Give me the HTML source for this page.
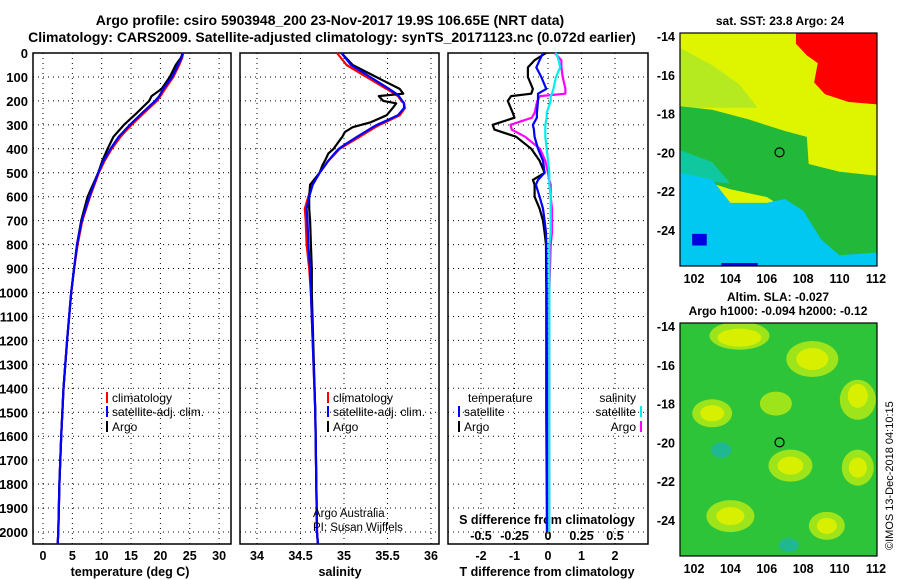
<!DOCTYPE html>
<html><head><meta charset="utf-8"><style>
body{margin:0;background:#fff;}
svg{display:block;font-family:"Liberation Sans",sans-serif;font-weight:bold;}
</style></head><body>
<svg id="fig" width="900" height="580" viewBox="0 0 900 580">
<text x="330" y="25" font-size="14" text-anchor="middle">Argo profile: csiro 5903948_200 23-Nov-2017 19.9S 106.65E (NRT data)</text>
<text x="332" y="42" font-size="14" text-anchor="middle">Climatology: CARS2009. Satellite-adjusted climatology: synTS_20171123.nc (0.072d earlier)</text>
<text x="780" y="25" font-size="12" text-anchor="middle">sat. SST: 23.8 Argo: 24</text>
<text x="778" y="301" font-size="12" text-anchor="middle">Altim. SLA: -0.027</text>
<text x="778" y="315" font-size="12" text-anchor="middle">Argo h1000: -0.094 h2000: -0.12</text>
<text transform="translate(893,550) rotate(-90)" font-size="11" font-weight="normal">©IMOS 13-Dec-2018 04:10:15</text>
<g id="g"></g>
</svg>
<script>
// depth grids and series
const depthT = [0,20,50,100,150,180,200,250,300,350,400,450,500,600,700,800,900,1000,1200,1400,1600,1800,2000,2050];
const tempClim = [23.9,23.7,23.2,22.2,20.8,20.0,19.4,17.2,15.1,13.2,11.7,10.5,9.5,8.0,6.7,5.9,5.3,4.8,4.1,3.5,3.1,2.8,2.6,2.5];
const tempSat  = [23.8,23.6,23.0,22.0,20.5,19.8,19.1,16.9,14.8,12.9,11.5,10.3,9.4,7.9,6.6,5.8,5.3,4.8,4.1,3.5,3.1,2.8,2.6,2.5];
const tempArgo = [23.8,23.5,22.6,21.6,20.2,18.5,18.1,16.0,13.8,12.0,11.0,10.1,9.4,7.6,6.5,5.8,5.3,4.8,4.1,3.5,3.1,2.8,2.6,2.5];
const depthS = [0,50,100,150,170,180,200,210,230,260,290,300,310,330,350,380,400,420,450,470,500,550,600,650,700,800,900,1000,1500,2000,2050];
const salClim = [34.92,35.03,35.26,35.49,35.58,35.62,35.66,35.69,35.70,35.64,35.47,35.41,35.36,35.27,35.18,35.04,34.95,34.9,34.82,34.78,34.72,34.64,34.59,34.55,34.56,34.57,34.6,34.62,34.67,34.69,34.7];
const salSat  = [34.97,35.08,35.30,35.52,35.60,35.63,35.67,35.69,35.69,35.62,35.44,35.38,35.33,35.24,35.15,35.02,34.94,34.89,34.82,34.78,34.72,34.64,34.6,34.57,34.58,34.59,34.61,34.62,34.67,34.69,34.7];
const salArgo = [34.97,35.10,35.37,35.64,35.68,35.40,35.45,35.60,35.56,35.49,35.30,35.20,35.10,35.01,34.98,34.92,34.88,34.82,34.78,34.75,34.72,34.61,34.6,34.6,34.61,34.62,34.63,34.63,34.67,34.69,34.7];
const depthD = [0,30,60,100,150,170,180,200,250,270,300,320,350,400,450,500,530,550,600,650,700,750,800,1000,1500,2000];
const dTArgo = [-0.06,-0.4,-0.6,-0.6,-0.45,-0.5,-1.1,-1.2,-1.05,-1.0,-1.65,-1.6,-0.95,-0.5,-0.25,-0.1,-0.45,-0.4,-0.4,-0.25,-0.15,-0.1,-0.06,-0.05,-0.05,-0.03];
const dTSat  = [-0.15,-0.25,-0.35,-0.2,-0.05,-0.3,-0.3,-0.3,-0.33,-0.33,-0.45,-0.42,-0.4,-0.3,-0.15,-0.1,-0.3,-0.36,-0.25,-0.15,-0.1,-0.06,-0.05,-0.04,-0.03,-0.03];
const dSArgo = [0.05,0.1,0.1,0.11,0.13,0.13,-0.06,-0.08,-0.1,-0.12,-0.28,-0.27,-0.17,-0.06,-0.02,0.0,0.01,0.02,0.02,0.03,0.03,0.03,0.02,0.01,0.01,0.01];
const dSSat  = [0.06,0.08,0.09,0.06,0.04,0.03,0.02,0.02,-0.01,-0.01,-0.02,-0.02,-0.02,-0.01,0.0,0.01,0.01,0.01,0.02,0.02,0.02,0.02,0.01,0.01,0.01,0.01];
const depthTicks = [0,100,200,300,400,500,600,700,800,900,1000,1100,1200,1300,1400,1500,1600,1700,1800,1900,2000];
const tempTicks = [0,5,10,15,20,25,30];
const salTicks = [34,34.5,35,35.5,36];
const tDiffTicks = [-2,-1,0,1,2];
const sDiffTickLabels = ['-0.5','-0.25','0','0.25','0.5'];
const latTicks = [-14,-16,-18,-20,-22,-24];
const lonTicks = [102,104,106,108,110,112];

const NS='http://www.w3.org/2000/svg';
const G=document.getElementById('g');
function mk(tag,at,parent){const e=document.createElementNS(NS,tag);for(const k in at)e.setAttribute(k,at[k]);(parent||G).appendChild(e);return e;}
const dy=d=>53+d*0.2395;
const TOP=53,BOT=544;
const xT=v=>43+v*5.87;
const xS=v=>257+(v-34)*87;
const xDT=v=>548+v*33.5;
const xDS=v=>548+v*134;
const panels=[[33,231,'temperature-panel'],[240,439,'salinity-panel'],[448,648,'difference-panel']];
function grid(x0,x1,xs){
  for(const d of depthTicks){const l=mk('line',{x1:x0,x2:x1,y1:dy(d),y2:dy(d),stroke:'#000','stroke-dasharray':'1,4','stroke-width':1});
  
  }
  for(const x of xs){const l=mk('line',{x1:x,x2:x,y1:TOP,y2:BOT,stroke:'#000','stroke-dasharray':'1,4','stroke-width':1});
  
  }
}
grid(33,231,tempTicks.map(xT));
grid(240,439,salTicks.map(xS));
grid(448,648,tDiffTicks.map(xDT));
for(const p of panels){const r=mk('rect',{x:p[0],y:TOP,width:p[1]-p[0],height:BOT-TOP,fill:'none',stroke:'#000','stroke-width':1.5});

}
for(const d of depthTicks){const t=mk('text',{x:28,y:dy(d)+5,'font-size':13,'text-anchor':'end'});t.textContent=d;

}
function xlabels(ticks,fx,y,labels,name){ticks.forEach((v,i)=>{const t=mk('text',{x:fx(v),y:y,'font-size':12.5,'text-anchor':'middle'});t.textContent=labels?labels[i]:v;

});}
xlabels(tempTicks,xT,560,null,'temp-tick-label');
xlabels(salTicks,xS,560,null,'salinity-tick-label');
xlabels(tDiffTicks,xDT,560,null,'tdiff-tick-label');
xlabels(tDiffTicks,xDT,540,sDiffTickLabels,'sdiff-tick-label');
function title(x,y,s,n){const t=mk('text',{x:x,y:y,'font-size':12.5,'text-anchor':'middle'});t.textContent=s;

}
title(130,576,'temperature (deg C)','temp-axis-title');
title(340,576,'salinity','salinity-axis-title');
title(547,576,'T difference from climatology','tdiff-axis-title');
title(547,524,'S difference from climatology','sdiff-axis-title');
function series(depths,vals,fx,col,name){const pts=depths.map((d,i)=>fx(vals[i]).toFixed(1)+','+dy(d).toFixed(1)).join(' ');
const l=mk('polyline',{points:pts,fill:'none',stroke:col,'stroke-width':2.2,'stroke-linejoin':'round'});

}
series(depthT,tempClim,xT,'#f00','temp-climatology-line');
series(depthT,tempArgo,xT,'#000','temp-argo-line');
series(depthT,tempSat,xT,'#00f','temp-satellite-line');
series(depthS,salClim,xS,'#f00','salinity-climatology-line');
series(depthS,salArgo,xS,'#000','salinity-argo-line');
series(depthS,salSat,xS,'#00f','salinity-satellite-line');
series(depthD,dTArgo,xDT,'#000','tdiff-argo-line');
series(depthD,dSArgo,xDS,'#f0f','sdiff-argo-line');
series(depthD,dTSat,xDT,'#00f','tdiff-satellite-line');
series(depthD,dSSat,xDS,'#0ee','sdiff-satellite-line');
function leg(x,y,col,s,n,anchor){const m=mk('rect',{x:x,y:y-10,width:2,height:11,fill:col});


const t=mk('text',{x:anchor==='end'?x-4:x+6,y:y,'font-size':12,'font-weight':'normal','text-anchor':anchor||'start'});t.textContent=s;

}
leg(106,402,'#f00','climatology','legend-climatology');
leg(106,416,'#00f','satellite-adj. clim.','legend-satellite');
leg(106,431,'#000','Argo','legend-argo');
leg(327,402,'#f00','climatology','legend-climatology-sal');
leg(327,416,'#00f','satellite-adj. clim.','legend-satellite-sal');
leg(327,431,'#000','Argo','legend-argo-sal');
leg(458,416,'#00f','satellite','legend-t-satellite');
leg(458,431,'#000','Argo','legend-t-argo');
leg(640,416,'#0ee','satellite','legend-s-satellite','end');
leg(640,431,'#f0f','Argo','legend-s-argo','end');
const lt=mk('text',{x:468,y:402,'font-size':12,'font-weight':'normal'});lt.textContent='temperature';


const ls=mk('text',{x:636,y:402,'font-size':12,'font-weight':'normal','text-anchor':'end'});ls.textContent='salinity';


const c1=mk('text',{x:313,y:517,'font-size':11.5,'font-weight':'normal'});c1.textContent='Argo Australia';


const c2=mk('text',{x:313,y:531,'font-size':11.5,'font-weight':'normal'});c2.textContent='PI: Susan Wijffels';



// maps
const lx=l=>694+(l-102)*18.2;
function map(top,name,bg,shapes,n2){
  const ly=lat=>top+(-14-lat)*19.4;
  const cp=mk('clipPath',{id:'c'+name});mk('rect',{x:680,y:top-3,width:197,height:233},cp);
  const g=mk('g',{'clip-path':'url(#c'+name+')'});
  
  
  mk('rect',{x:680,y:top-3,width:197,height:233,fill:bg},g);
  for(const s of shapes){
    if(s[0]==='p')mk('polygon',{points:s[2].map(q=>lx(q[0])+','+ly(q[1])).join(' '),fill:s[1]},g);
    else mk('ellipse',{cx:lx(s[2]),cy:ly(s[3]),rx:s[4],ry:s[5],fill:s[1]},g);
  }
  const c=mk('circle',{cx:lx(106.7),cy:ly(-20),r:4.5,fill:'none',stroke:'#000','stroke-width':1.2});
  
  
  const f=mk('rect',{x:680,y:top-3,width:197,height:233,fill:'none',stroke:'#000','stroke-width':1.2});
  
  
  for(const la of latTicks){const t=mk('text',{x:675,y:ly(la)+5,'font-size':12.5,'text-anchor':'end'});t.textContent=la;
  
  }
  for(const lo of lonTicks){const t=mk('text',{x:lx(lo),y:top+247,'font-size':12.5,'text-anchor':'middle'});t.textContent=lo;
  
  }
}
map(36,'sst-map','#dff500',[
 ['p','#b6ea20',[[101,-14.5],[103,-15.5],[104.5,-16.5],[105.5,-17.7],[101,-17.7]]],
 ['p','#f00',[[107.6,-13],[113,-13],[113,-17.6],[110.5,-17.4],[109.2,-17],[108.6,-16.4],[108.8,-15.4],[108.2,-15],[107.6,-14.4]]],
 ['p','#22b83a',[[101,-17.6],[103,-17.8],[105,-18.3],[107,-18.9],[108.2,-19.2],[108.3,-20.6],[110,-21],[113,-21.3],[113,-27],[110,-26],[108,-23.5],[106,-22.3],[104,-21.9],[101,-21]]],
 ['p','#10c8a0',[[101,-19.8],[103,-20.5],[104,-21.6],[101,-21.3]]],
 ['p','#00c8f0',[[101,-21],[103,-21.4],[104,-22.6],[106,-22.6],[107,-22.4],[108,-23],[109,-24.5],[110,-25.3],[113,-25.1],[113,-27],[101,-27]]],
 ['p','#0000e0',[[101.9,-24.2],[102.7,-24.2],[102.7,-24.8],[101.9,-24.8]]],
 ['p','#0000e0',[[103.5,-25.7],[105.5,-25.7],[105.5,-27],[103.5,-27]]]
],0);
map(326,'sla-map','#2ec43a',[
 ['e','#9ee41a',104.5,-14.5,30,14],['e','#d8f000',104.5,-14.6,22,9],
 ['e','#9ee41a',108.5,-15.7,26,18],['e','#d8f000',108.5,-15.7,16,11],
 ['e','#9ee41a',111,-17.8,18,20],['e','#d8f000',111,-17.6,10,12],
 ['e','#9ee41a',103,-18.5,20,14],['e','#d8f000',103,-18.5,12,8],
 ['e','#9ee41a',106.5,-18,16,12],
 ['e','#9ee41a',107.3,-21.2,22,16],['e','#d8f000',107.3,-21.2,13,9],
 ['e','#9ee41a',111,-21.3,16,18],['e','#d8f000',111,-21.3,9,10],
 ['e','#9ee41a',104,-23.8,24,16],['e','#d8f000',104,-23.8,14,9],
 ['e','#9ee41a',109.3,-24.3,18,14],['e','#d8f000',109.3,-24.3,10,8],
 ['e','#20b890',103.5,-20.4,10,8],['e','#20b890',107.2,-25.3,10,7]
],1);
</script>
</body></html>
